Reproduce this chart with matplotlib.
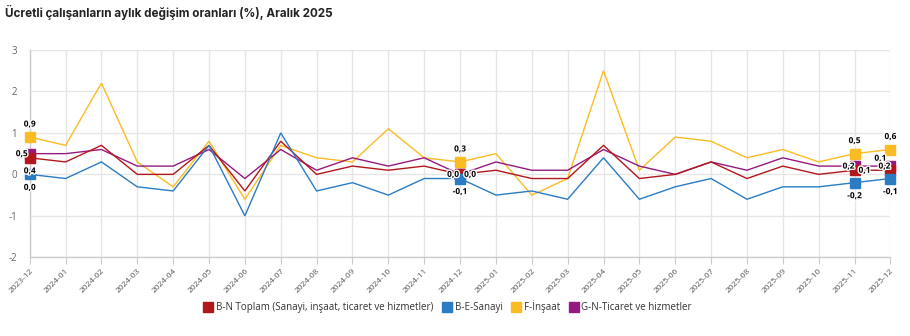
import matplotlib
matplotlib.use("Agg")
import matplotlib.pyplot as plt
import matplotlib.patheffects as pe
from matplotlib.lines import Line2D
import numpy as np

months = ["2023-12", "2024-01", "2024-02", "2024-03", "2024-04", "2024-05", "2024-06",
          "2024-07", "2024-08", "2024-09", "2024-10", "2024-11", "2024-12", "2025-01",
          "2025-02", "2025-03", "2025-04", "2025-05", "2025-06", "2025-07", "2025-08",
          "2025-09", "2025-10", "2025-11", "2025-12"]

toplam = [0.4, 0.3, 0.7, 0.0, 0.0, 0.7, -0.4, 0.8, 0.0, 0.2, 0.1, 0.2, 0.0, 0.1,
          -0.1, -0.1, 0.7, -0.1, 0.0, 0.3, -0.1, 0.2, 0.0, 0.1, 0.1]
sanayi = [0.0, -0.1, 0.3, -0.3, -0.4, 0.7, -1.0, 1.0, -0.4, -0.2, -0.5, -0.1, -0.1, -0.5,
          -0.4, -0.6, 0.4, -0.6, -0.3, -0.1, -0.6, -0.3, -0.3, -0.2, -0.1]
insaat = [0.9, 0.7, 2.2, 0.3, -0.3, 0.8, -0.6, 0.7, 0.4, 0.3, 1.1, 0.4, 0.3, 0.5,
          -0.5, -0.1, 2.5, 0.1, 0.9, 0.8, 0.4, 0.6, 0.3, 0.5, 0.6]
ticaret = [0.5, 0.5, 0.6, 0.2, 0.2, 0.6, -0.1, 0.6, 0.1, 0.4, 0.2, 0.4, 0.0, 0.3,
           0.1, 0.1, 0.6, 0.2, 0.0, 0.3, 0.1, 0.4, 0.2, 0.2, 0.2]

series_names = ["B-N Toplam (Sanayi, inşaat, ticaret ve hizmetler)", "B-E-Sanayi",
                "F-İnşaat", "G-N-Ticaret ve hizmetler"]
highlight_idx = [0, 12, 23, 24]
yticks = [-2, -1, 0, 1, 2, 3]
ytick_labels = ["-2", "-1", "0", "1", "2", "3"]

colors = ["#b2171c", "#2a7cc4", "#fbbb23", "#941a80"]
series = [toplam, sanayi, insaat, ticaret]
zorders = [5, 6, 3, 4]

# label pixel offsets per series per highlighted index (styling)
label_offsets = {
    0: {0: (0, -13), 12: (-7, 0), 23: (10, 0), 24: (-10, 12)},
    1: {0: (0, -13), 12: (0, -13), 23: (0, -13), 24: (0, -13)},
    2: {0: (0, 13), 12: (0, 13), 23: (0, 13), 24: (0, 13)},
    3: {0: (-8, 0), 12: (10, 0), 23: (-6, 0), 24: (-6, 0)},
}

plt.rcParams['font.family'] = ['Open Sans', 'DejaVu Sans']
fig = plt.figure(figsize=(9.10, 3.36), dpi=100)
W, H = 910, 336
ax = fig.add_axes([29.7 / W, 1 - 257.3 / H, (890.4 - 29.7) / W, (257.3 - 50) / H])

x = np.arange(len(months))
for i, (vals, c) in enumerate(zip(series, colors)):
    ax.plot(x, vals, color=c, lw=1.0, zorder=zorders[i], solid_joinstyle='miter')
    hx = [x[j] for j in highlight_idx]
    hy = [vals[j] for j in highlight_idx]
    ax.plot(hx, hy, ls='none', marker='s', ms=7.5, color=c, mec=c, zorder=zorders[i] + 10,
            clip_on=False)
    for j in highlight_idx:
        dx, dy = label_offsets[i][j]
        txt = f"{vals[j]:.1f}".replace(".", ",")
        ax.annotate(txt, (x[j], vals[j]), xytext=(dx, dy), textcoords='offset pixels',
                    ha='center', va='center', fontsize=6, fontweight='bold', color='black',
                    zorder=30, annotation_clip=False,
                    path_effects=[pe.withStroke(linewidth=2, foreground='white')])

ax.set_xlim(0, len(months) - 1)
ax.set_ylim(-2, 3)
ax.set_yticks(yticks)
ax.set_yticklabels(ytick_labels)
ax.set_xticks(x)
ax.set_xticklabels(months, rotation=45, ha='right', rotation_mode='anchor')
ax.tick_params(axis='x', labelsize=6, colors='#555555', length=5, color='#cccccc', pad=2)
ax.tick_params(axis='y', labelsize=7, colors='#666666', length=0, pad=9)
ax.grid(True, color='#e6e6e6', lw=1.0, zorder=0)
ax.set_axisbelow(True)
for s in ['top', 'right']:
    ax.spines[s].set_visible(False)
ax.spines['left'].set_color('#cccccc')
ax.spines['bottom'].set_color('#cccccc')
ax.spines['left'].set_linewidth(1.0)
ax.spines['bottom'].set_linewidth(1.0)

fig.text(5 / W, 1 - 12 / H, "Ücretli çalışanların aylık değişim oranları (%), Aralık 2025",
         fontsize=8.4, fontweight='bold', ha='left', va='center', color='#222222',
         family=['Inter', 'DejaVu Sans'])

handles = [Line2D([0], [0], ls='none', marker='s', ms=7.5, color=c) for c in colors]
fig.legend(handles, series_names, loc='center', bbox_to_anchor=(448 / W, 1 - 307 / H),
           ncol=4, frameon=False, fontsize=7, handlelength=0.8, handletextpad=0.4,
           columnspacing=1.0, labelcolor='#333333')

fig.savefig("out.png", dpi=100)
